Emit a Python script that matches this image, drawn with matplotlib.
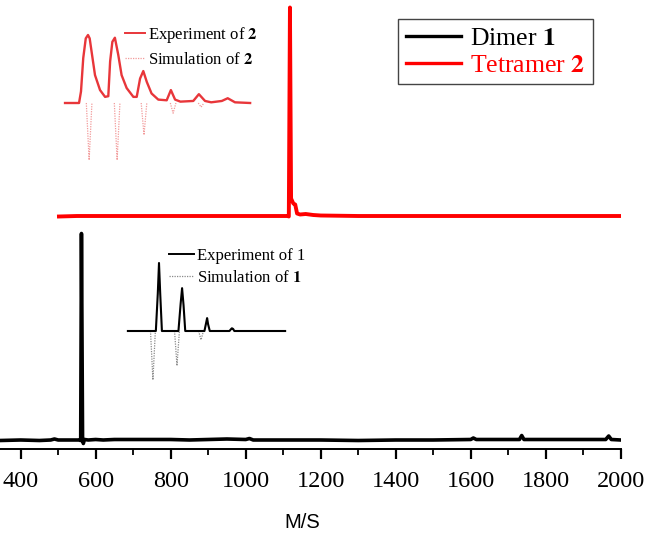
import numpy as np
import matplotlib
matplotlib.use('Agg')
import matplotlib.pyplot as plt
from matplotlib.lines import Line2D
from matplotlib.ticker import MultipleLocator

# ---- main spectra (m/z, intensity above own baseline, a.u.) ----
DIMER_MZ = [345, 400, 450, 480, 490, 500, 540, 555, 560, 562, 565, 567, 570,
            580, 600, 620, 650, 700, 750, 800, 850, 900, 950, 1000, 1010,
            1020, 1100, 1200, 1300, 1400, 1500, 1600, 1607, 1615, 1700,
            1730, 1736, 1742, 1800, 1900, 1960, 1968, 1975, 2000]
DIMER_I = [0, 0.5, 0, 0.5, 1.5, 0.5, 0.5, 0.5, 0, 207, 0, -3, 1,
           0.5, 1, 0.5, 1, 1, 1, 1, 0.5, 1, 1.5, 1, 2,
           0.5, 0.5, 0.5, 0, 0.5, 0.5, 1, 2.5, 1, 1,
           1, 5, 1, 1, 1, 1, 4.5, 1, 0.5]
TETRAMER_MZ = [502, 550, 600, 700, 800, 900, 1000, 1050, 1100, 1112, 1115,
               1118, 1121, 1127, 1132, 1137, 1145, 1160, 1180, 1200, 1300,
               1400, 1500, 1600, 1700, 1800, 1900, 2000]
TETRAMER_I = [0, 0.5, 0.5, 0.5, 0.5, 0.5, 0.5, 0.5, 0.5, 0.5, 0,
              209, 18, 13, 12, 3, 2, 2.5, 1.5, 1, 0.5,
              0.5, 0.5, 0.5, 0.5, 0.5, 0.5, 0.5]
DIMER_OFFSET = 8.5
TETRAMER_OFFSET = 232.5

# ---- inset of 2 (relative isotope index, % intensity) ----
EXP2_U = [-0.82, -0.32, -0.25, -0.17, -0.08, 0, 0.06, 0.13, 0.25, 0.43, 0.61,
          0.725, 0.79, 0.87, 0.96, 1.08, 1.2, 1.38, 1.62, 1.74, 1.86, 1.975,
          2.1, 2.27, 2.51, 2.81, 2.96, 3.11, 3.3, 3.76, 3.96, 4.18, 4.4,
          4.78, 4.99, 5.25, 5.79]
EXP2_H = [0, 0, 17, 66, 95, 100, 95, 75, 41, 19, 9,
          10, 61, 90, 96, 71, 41, 22, 9, 9, 36, 47,
          31, 14, 5, 4, 19, 5, 2, 3, 13, 3, 1,
          3, 7, 1, 0]
SIM2_CENTER = [0.04, 1.04, 2.0, 3.04, 4.04]
SIM2_DEPTH = [84, 84, 47, 15, 6]

# ---- inset of 1 ----
EXP1_U = [-1.28, -0.13, -0.05, 0, 0.05, 0.12, 0.8, 0.89, 0.95, 1.01, 1.08,
          1.87, 1.94, 1.98, 2.02, 2.09, 2.9, 2.97, 3.0, 3.05, 3.1, 5.19]
EXP1_H = [0, 0, 55, 100, 55, 0, 0, 40, 63, 38, 0,
          0, 12, 19, 10, 0, 0, 3, 4, 3, 0, 0]
SIM1_CENTER = [-0.25, 0.74, 1.73]
SIM1_DEPTH = [72, 51, 13]

RED = '#ff0000'
W, H = 651, 536

plt.rcParams['font.family'] = ['Liberation Serif', 'DejaVu Serif']
plt.rcParams['mathtext.fontset'] = 'stix'


def fig_box(x0, y0, x1, y1):
    return [x0 / W, 1 - y1 / H, (x1 - x0) / W, (y1 - y0) / H]


def inset(box, a, b, c, d):
    # px_x = a + b*u ; px_y = c - d*h
    x0, y0, x1, y1 = box
    iax = fig.add_axes(fig_box(*box))
    iax.set_xlim((x0 - a) / b, (x1 - a) / b)
    iax.set_ylim((c - y1) / d, (c - y0) / d)
    iax.axis('off')
    return iax


def dips(centers, depths, hw=0.1):
    # simulated sticks drawn as narrow downward V's, separated by gaps
    xs, ys = [], []
    for cx, dp in zip(centers, depths):
        xs += [cx - hw, cx, cx + hw, np.nan]
        ys += [0, -dp, 0, np.nan]
    return xs, ys


fig = plt.figure(figsize=(W / 100, H / 100), dpi=100)
ax = fig.add_axes(fig_box(0, 0, 620.7, 449))
ax.set_xlim(344.8, 2000)
ax.set_ylim(0, 449)

ax.plot(DIMER_MZ, np.array(DIMER_I) + DIMER_OFFSET, color='black', lw=2.6)
ax.plot(TETRAMER_MZ, np.array(TETRAMER_I) + TETRAMER_OFFSET, color=RED, lw=2.8)

for s in ['left', 'top', 'right']:
    ax.spines[s].set_visible(False)
ax.spines['bottom'].set_linewidth(1.4)
ax.set_yticks([])
ax.xaxis.set_major_locator(MultipleLocator(200))
ax.xaxis.set_minor_locator(MultipleLocator(100))
ax.tick_params(axis='x', which='major', direction='out', length=7.5, width=1.6,
               labelsize=17.5, pad=8.5)
ax.tick_params(axis='x', which='minor', direction='out', length=4.5, width=1.3)
ax.set_xlabel('M/S', family='Liberation Sans', fontsize=14.5)
ax.xaxis.label.set_va('center')
ax.xaxis.set_label_coords(302 / 620.7, -73 / 449)

leg = ax.legend(handles=[Line2D([], [], color='black', lw=2.4),
                         Line2D([], [], color=RED, lw=2.4)],
                labels=[r'Dimer $\mathbf{1}$', r'Tetramer $\mathbf{2}$'],
                loc='upper right', bbox_to_anchor=(593 / W, 1 - 19 / H),
                bbox_transform=fig.transFigure, fontsize=18.5,
                handlelength=2.15, handletextpad=0.35, labelspacing=0.15,
                borderpad=0.3, borderaxespad=0, fancybox=False,
                edgecolor='#444444', framealpha=1)
leg.get_frame().set_linewidth(1.0)
leg.get_texts()[1].set_color(RED)

# inset of tetramer 2
ax2 = inset((60, 20, 255, 170), 88, 28, 103, 0.68)
ax2.plot(*dips(SIM2_CENTER, SIM2_DEPTH), color='#f29a9a', lw=0.9, ls=(0, (1, 1)))
ax2.plot(EXP2_U, EXP2_H, color='#e8363a', lw=1.7)
ax2.legend(handles=[Line2D([], [], color='#e8363a', lw=1.4),
                    Line2D([], [], color='#f29a9a', lw=0.9, ls=(0, (1, 1)))],
           labels=[r'Experiment of $\mathbf{2}$', r'Simulation of $\mathbf{2}$'],
           loc='upper left', bbox_to_anchor=(125 / W, 1 - 25 / H),
           bbox_transform=fig.transFigure, fontsize=12, frameon=False,
           handlelength=1.2, handletextpad=0.2, labelspacing=0.4,
           borderpad=0, borderaxespad=0)

# inset of dimer 1
ax1 = inset((120, 240, 295, 385), 159, 24.3, 331, 0.68)
ax1.plot(*dips(SIM1_CENTER, SIM1_DEPTH), color='#8a8a8a', lw=0.9, ls=(0, (1, 1)))
ax1.plot(EXP1_U, EXP1_H, color='black', lw=1.5)
ax1.legend(handles=[Line2D([], [], color='black', lw=1.4),
                    Line2D([], [], color='#8a8a8a', lw=0.9, ls=(0, (1, 1)))],
           labels=['Experiment of 1', r'Simulation of $\mathbf{1}$'],
           loc='upper left', bbox_to_anchor=(169 / W, 1 - 248 / H),
           bbox_transform=fig.transFigure, fontsize=12, frameon=False,
           handlelength=1.5, handletextpad=0.2, labelspacing=0.35,
           borderpad=0, borderaxespad=0)

fig.savefig('out.png', dpi=100)
